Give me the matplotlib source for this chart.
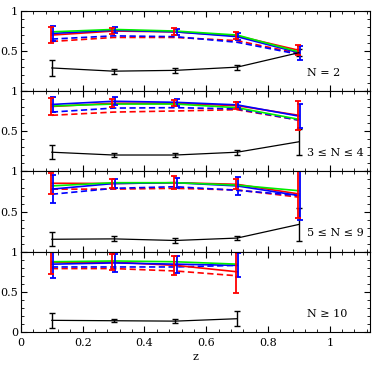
import numpy as np
import matplotlib
matplotlib.use('Agg')
import matplotlib.pyplot as plt
from matplotlib.ticker import MultipleLocator

plt.rcParams['font.family'] = ['DejaVu Serif']
plt.rcParams['lines.scale_dashes'] = False

# redshift bins
z = [0.1, 0.3, 0.5, 0.7, 0.9]
panel_labels = ['N = 2', '3 \u2264 N \u2264 4', '5 \u2264 N \u2264 9', 'N \u2265 10']

# one list per panel (top to bottom)
black = [[0.29, 0.25, 0.26, 0.30, 0.48],
         [0.24, 0.205, 0.205, 0.24, 0.37],
         [0.155, 0.16, 0.14, 0.17, 0.34],
         [0.145, 0.14, 0.135, 0.165]]
black_err = [[0.10, 0.03, 0.03, 0.03, 0.04],
             [0.085, 0.02, 0.03, 0.03, 0.16],
             [0.085, 0.03, 0.03, 0.03, 0.21],
             [0.09, 0.02, 0.025, 0.09]]

red = [[0.70, 0.75, 0.74, 0.69, 0.51],
       [0.81, 0.85, 0.85, 0.82, 0.70],
       [0.853, 0.85, 0.86, 0.84, 0.72],
       [0.87, 0.87, 0.83, 0.75]]
red_err = [[0.10, 0.04, 0.045, 0.045, 0.06],
           [0.11, 0.05, 0.04, 0.04, 0.18],
           [0.13, 0.06, 0.08, 0.06, 0.30],
           [0.15, 0.10, 0.12, 0.26]]

blue = [[0.72, 0.76, 0.74, 0.68, 0.48],
        [0.835, 0.875, 0.862, 0.83, 0.69],
        [0.78, 0.85, 0.86, 0.82, 0.70],
        [0.845, 0.86, 0.845, 0.83]]
blue_err = [[0.09, 0.04, 0.04, 0.04, 0.085],
            [0.09, 0.05, 0.04, 0.04, 0.15],
            [0.17, 0.05, 0.06, 0.115, 0.31],
            [0.17, 0.11, 0.105, 0.15]]

green = [[0.74, 0.77, 0.75, 0.70, 0.49],
         [0.816, 0.84, 0.84, 0.795, 0.65],
         [0.82, 0.86, 0.86, 0.83, 0.76],
         [0.875, 0.885, 0.875, 0.845]]

red_dash = [[0.62, 0.67, 0.67, 0.63, 0.47],
            [0.70, 0.74, 0.754, 0.77, 0.64],
            [0.78, 0.78, 0.79, 0.77, 0.68],
            [0.79, 0.79, 0.76, 0.70]]

blue_dash = [[0.65, 0.69, 0.68, 0.61, 0.46],
             [0.74, 0.79, 0.795, 0.78, 0.64],
             [0.716, 0.79, 0.81, 0.765, 0.70],
             [0.81, 0.81, 0.81, 0.83]]

fig, axes = plt.subplots(4, 1, figsize=(3.74, 3.66), dpi=100, sharex=True)
fig.subplots_adjust(left=0.056, right=0.989, top=0.970, bottom=0.093, hspace=0)

ebkw = dict(capsize=2.2, elinewidth=1.3, capthick=1.3, linestyle='none')

for i, ax in enumerate(axes):
    n = len(black[i])
    x = np.array(z[:n])

    ax.errorbar(x, black[i], yerr=black_err[i], color='black', lw=0.9,
                capsize=2.2, elinewidth=1.0, capthick=1.0)
    ax.plot(x, red_dash[i], color='red', lw=1.2, dashes=(4.5, 2.5))
    ax.plot(x, blue_dash[i], color='blue', lw=1.2, dashes=(4.5, 2.5))
    ax.plot(x, red[i], color='red', lw=1.2)
    ax.plot(x, blue[i], color='blue', lw=1.2)
    ax.plot(x, green[i], color='#00ee00', lw=1.2)
    ax.errorbar(x + 0.004, blue[i], yerr=blue_err[i], color='blue', **ebkw)
    ax.errorbar(x - 0.004, red[i], yerr=red_err[i], color='red', **ebkw)

    ax.text(0.925, 0.23, panel_labels[i], fontsize=8, va='center', ha='left')

    ax.set_xlim(0, 1.13)
    ax.set_ylim(0, 1)
    ax.set_yticks([0, 0.5, 1])
    if i < 3:
        ax.set_yticklabels(['', '0.5', '1'])
    else:
        ax.set_yticklabels(['0', '0.5', '1'])
    ax.xaxis.set_major_locator(MultipleLocator(0.2))
    ax.xaxis.set_minor_locator(MultipleLocator(0.04))
    ax.yaxis.set_minor_locator(MultipleLocator(0.1))
    ax.tick_params(which='both', direction='in', top=True, right=True,
                   labelsize=8, pad=2)
    ax.tick_params(which='major', length=4.5, width=0.8)
    ax.tick_params(which='minor', length=2.2, width=0.6)
    for sp in ax.spines.values():
        sp.set_linewidth(0.8)

axes[-1].set_xticks([0, 0.2, 0.4, 0.6, 0.8, 1])
axes[-1].set_xticklabels(['0', '0.2', '0.4', '0.6', '0.8', '1'])
axes[-1].tick_params(axis='x', pad=4)
axes[-1].set_xlabel('z', fontsize=8, labelpad=3)

fig.savefig('out.png', dpi=100)
